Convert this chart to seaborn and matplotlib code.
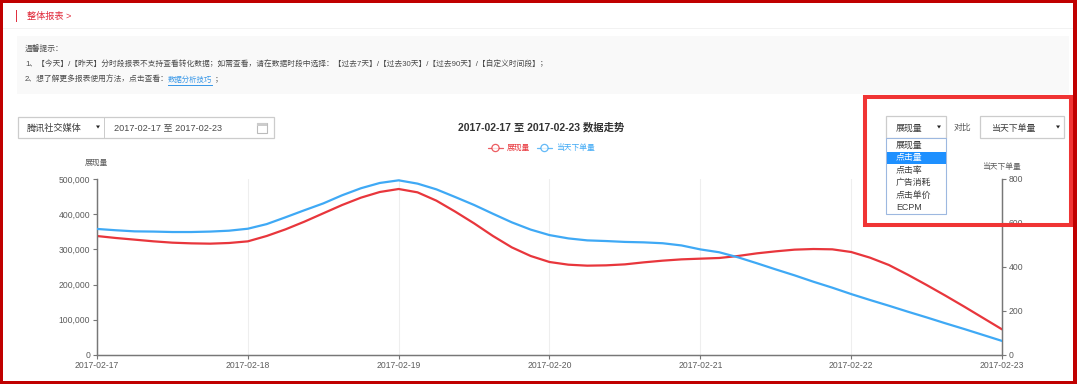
import numpy as np
import pandas as pd
import matplotlib
matplotlib.use("Agg")
import matplotlib.pyplot as plt
from matplotlib.patches import Rectangle, Polygon, Circle
from matplotlib.ticker import FuncFormatter
import seaborn as sns

# values, one every 3 hours
times = pd.date_range("2017-02-17", periods=49, freq="3h")
impressions = [338000, 332400, 327700, 322900, 319100, 317200, 316300, 318200,
               322900, 338100, 357000, 378800, 402500, 426100, 447000, 463100,
               471600, 462100, 438500, 407300, 374000, 338100, 305800, 281300,
               264200, 256600, 253800, 254700, 257500, 263200, 268000, 271700,
               273700, 275600, 281300, 288800, 294500, 299300, 301100, 300200,
               292600, 276500, 255700, 228200, 198900, 168600, 137300, 105100, 72900]
orders = [573, 567, 562, 561, 559, 559, 561, 565,
          574, 595, 626, 658, 689, 726, 758, 782,
          794, 779, 753, 718, 682, 642, 603, 570,
          545, 530, 521, 518, 514, 512, 508, 498,
          480, 467, 444, 417, 389, 362, 333, 306,
          277, 250, 224, 197, 171, 144, 118, 91, 64]

date_labels = ["2017-02-17", "2017-02-18", "2017-02-19", "2017-02-20",
               "2017-02-21", "2017-02-22", "2017-02-23"]
left_ticks = [0, 100000, 200000, 300000, 400000, 500000]
right_ticks = [0, 200, 400, 600, 800]
menu_items = ["展现量", "点击量", "点击率", "广告消耗", "点击单价", "ECPM"]

RED = "#e8363c"
BLUE = "#3fa9f5"
AXIS = "#777777"
TXT = "#5c5c5c"

sns.set_theme(style="white")
plt.rcParams["font.family"] = ["Liberation Sans", "Noto Sans CJK SC", "DejaVu Sans"]

W, H = 1077, 384
fig = plt.figure(figsize=(W / 100, H / 100), dpi=100, facecolor="white")

# chart
ax = fig.add_axes([97 / W, (H - 355) / H, 905 / W, 176 / H])
ax.patch.set_alpha(0)
sns.lineplot(x=times, y=impressions, ax=ax, color=RED, linewidth=1.6, zorder=3)
ax.set_xlim(pd.Timestamp(date_labels[0]), pd.Timestamp(date_labels[-1]))
ax.set_ylim(0, 500000)
ax.set_xticks(pd.to_datetime(date_labels))
ax.set_xticklabels(date_labels)
ax.set_yticks(left_ticks)
ax.yaxis.set_major_formatter(FuncFormatter(lambda v, p: f"{int(v):,}"))
ax.xaxis.grid(True, color="#eeeeee", linewidth=0.8)
ax.yaxis.grid(False)
ax.set_xlabel("")
ax.set_ylabel("")

ax2 = ax.twinx()
ax2.patch.set_alpha(0)
sns.lineplot(x=times, y=orders, ax=ax2, color=BLUE, linewidth=1.6, zorder=3)
ax2.set_ylim(0, 800)
ax2.set_yticks(right_ticks)
ax2.set_ylabel("")
ax2.grid(False)

for a in (ax, ax2):
    a.spines["top"].set_visible(False)
    for s in ("left", "right", "bottom"):
        a.spines[s].set_color(AXIS)
        a.spines[s].set_linewidth(0.9)
    a.tick_params(axis="both", length=3, width=0.8, color=AXIS, labelcolor=TXT,
                  labelsize=6.2, pad=2, bottom=True, left=a is ax, right=a is ax2)
ax.tick_params(axis="x", pad=1.5)

# page furniture goes on a pixel-sized overlay
ui = fig.add_axes([0, 0, 1, 1], zorder=10)
ui.set_xlim(0, W)
ui.set_ylim(H, 0)
ui.axis("off")


def box(x0, y0, x1, y1, fc="none", ec="none", lw=0.0, z=1):
    ui.add_patch(Rectangle((x0, y0), x1 - x0, y1 - y0, facecolor=fc, edgecolor=ec, linewidth=lw, zorder=z))


def label(x, y, s, size=6.3, color="#3c3c3c", ha="left", weight="normal", z=5):
    ui.text(x, y, s, fontsize=size, color=color, ha=ha, va="center", fontweight=weight, zorder=z)


def arrow(x, y):
    ui.add_patch(Polygon([(x - 2, y - 1.5), (x + 2, y - 1.5), (x, y + 1.5)], facecolor="#222222", edgecolor="none", zorder=5))


# header
box(16, 10, 17, 22, fc="#e03040")
label(27, 16.5, "整体报表 >", size=6.6, color="#e02c3c")
box(3, 28, 1073, 29, fc="#f2f2f2")

# tips
box(17, 36, 1069, 94, fc="#f9f9f9")
label(25, 49, "温馨提示：", size=5.6, color="#4a4a4a")
label(25, 65, "1、【今天】/【昨天】分时段报表不支持查看转化数据；如需查看，请在数据时段中选择：【过去7天】/【过去30天】/【过去90天】/【自定义时间段】；",
      size=5.56, color="#4a4a4a")
label(25, 80, "2、想了解更多报表使用方法，点击查看：", size=5.56, color="#4a4a4a")
label(168, 80, "数据分析技巧", size=5.3, color="#3b99e8")
box(168, 85, 213, 85.8, fc="#3b99e8")
label(215, 80, "；", size=5.56, color="#4a4a4a")

# media + date picker
box(18, 117, 274, 138, fc="white", ec="#cccccc", lw=0.9)
box(104, 117, 104.8, 138, fc="#cccccc")
label(27, 128, "腾讯社交媒体", size=6.6)
arrow(98, 127)
label(114, 128, "2017-02-17 至 2017-02-23", size=6.55, color="#4a4a4a")
box(257, 123, 267, 133, ec="#bbbbbb", lw=0.8)
box(257, 123, 267, 125.5, fc="#cccccc")

# title + legend
label(541, 127, "2017-02-17 至 2017-02-23 数据走势", size=7.5, color="#333333", ha="center", weight="bold")
for x0, name, col in [(488, "展现量", RED), (537, "当天下单量", BLUE)]:
    ui.plot([x0, x0 + 15], [148, 148], color=col, linewidth=0.9, alpha=0.8, zorder=4)
    ui.add_patch(Circle((x0 + 7.5, 148), 3.6, facecolor="white", edgecolor=col, linewidth=0.9, alpha=0.8, zorder=5))
    label(x0 + 19, 148, name, size=5.6, color=col)

label(96, 163, "展现量", size=5.6, color=TXT, ha="center")
label(1001, 167, "当天下单量", size=5.6, color=TXT, ha="center")

# selects + dropdown
box(886, 116, 946, 138, fc="white", ec="#cccccc", lw=0.9)
label(896, 128, "展现量", size=6.4)
arrow(939, 127)
label(954, 127, "对比", size=6.4, color="#555555")
box(980, 116, 1064, 138, fc="white", ec="#cccccc", lw=0.9)
label(991, 128, "当天下单量", size=6.4)
arrow(1058, 127)
box(886, 138, 946, 214, fc="white", ec="#9db8e0", lw=0.8, z=2)
box(886.5, 152, 945.5, 164, fc="#1e90ff", z=3)
for y, item, col in zip(np.linspace(145, 208, 6), menu_items,
                        ["#3c3c3c", "white", "#3c3c3c", "#3c3c3c", "#3c3c3c", "#3c3c3c"]):
    label(896, y, item, size=6.4, color=col)

# callout + outer frame
box(865, 97, 1071, 225, ec="#f03434", lw=2.9, z=6)
for x0, y0, x1, y1 in [(0, 0, W, 3), (0, 381, W, H), (0, 0, 3, H), (1073, 0, W, H)]:
    box(x0, y0, x1, y1, fc="#c00000", z=7)

fig.savefig("out.png", dpi=100)
